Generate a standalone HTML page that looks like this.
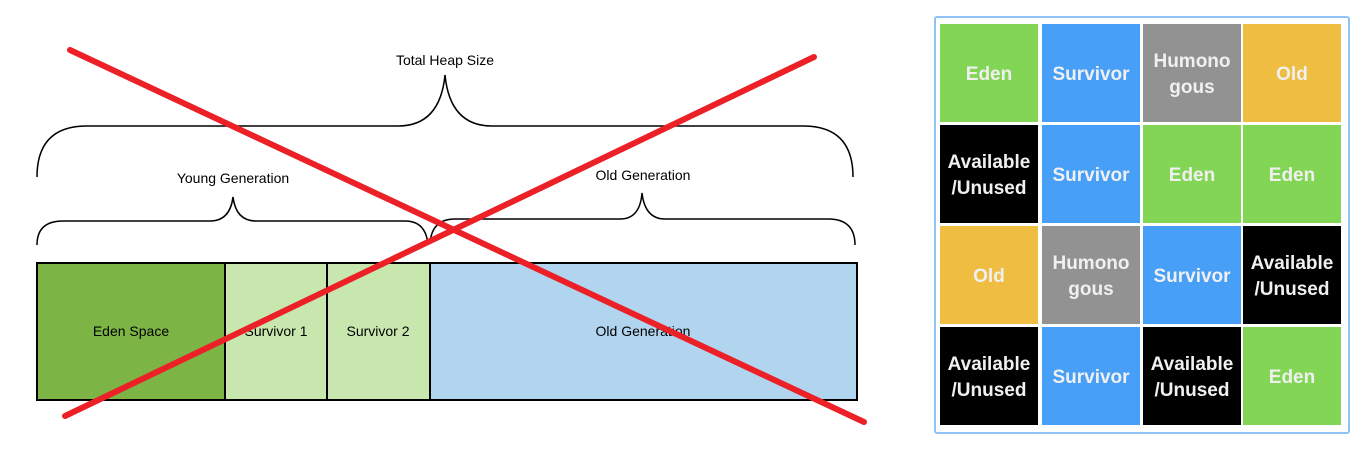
<!DOCTYPE html>
<html><head><style>
html,body{margin:0;padding:0;background:#fff;width:1367px;height:449px;overflow:hidden}
svg{position:absolute;left:0;top:0}
.grid{position:absolute;left:934px;top:16px;width:412px;height:414px;border:2px solid #8ec3f5;border-radius:3px;background:#fff}
.c{position:absolute;width:98px;height:98px;box-sizing:border-box;padding-top:4px;color:#f0f0f0;font:bold 19px "Liberation Sans",sans-serif;display:flex;align-items:center;justify-content:center;text-align:center;line-height:26px}
.g{background:#83d655}.b{background:#479ff7}.y{background:#eebd41}.k{background:#000}.h{background:#929292}
</style></head><body>
<svg width="1367" height="449" font-family="Liberation Sans, sans-serif" font-size="14">
<rect x="37" y="263" width="188" height="137" fill="#7cb446" stroke="#000" stroke-width="2"/>
<rect x="225" y="263" width="102" height="137" fill="#c7e7ae" stroke="#000" stroke-width="2"/>
<rect x="327" y="263" width="103" height="137" fill="#c7e7ae" stroke="#000" stroke-width="2"/>
<rect x="430" y="263" width="427" height="137" fill="#b1d5ef" stroke="#000" stroke-width="2"/>
<text x="131" y="336" text-anchor="middle">Eden Space</text>
<text x="276" y="336" text-anchor="middle">Survivor 1</text>
<text x="378" y="336" text-anchor="middle">Survivor 2</text>
<text x="643" y="336" text-anchor="middle">Old Generation</text>
<g fill="none" stroke="#000" stroke-width="1.5">
<path d="M37,177 Q37,127 85,126 L398,126 Q440,126 445,75 Q450,126 492,126 L805,126 Q853,127 853,177"/>
<path d="M37,245 Q37,221 63,221 L210,221 Q230,221 233,197 Q236,221 256,221 L405,221 Q426,221 428,245"/>
<path d="M430,243 Q432,219 455,219 L620,219 Q640,219 642,193 Q645,219 665,219 L830,219 Q855,220 855,245"/>
</g>
<text x="445" y="65" text-anchor="middle">Total Heap Size</text>
<text x="233" y="183" text-anchor="middle">Young Generation</text>
<text x="643" y="180" text-anchor="middle">Old Generation</text>
<g stroke="#ec2027" stroke-width="6" stroke-linecap="round">
<line x1="70" y1="50" x2="864" y2="422"/>
<line x1="65" y1="416" x2="814" y2="57"/>
</g>
</svg>
<div class="grid">
<div class="c g" style="left:4px;top:6px">Eden</div>
<div class="c b" style="left:106px;top:6px">Survivor</div>
<div class="c h" style="left:207px;top:6px">Humono<br>gous</div>
<div class="c y" style="left:307px;top:6px">Old</div>
<div class="c k" style="left:4px;top:107px">Available<br>/Unused</div>
<div class="c b" style="left:106px;top:107px">Survivor</div>
<div class="c g" style="left:207px;top:107px">Eden</div>
<div class="c g" style="left:307px;top:107px">Eden</div>
<div class="c y" style="left:4px;top:208px">Old</div>
<div class="c h" style="left:106px;top:208px">Humono<br>gous</div>
<div class="c b" style="left:207px;top:208px">Survivor</div>
<div class="c k" style="left:307px;top:208px">Available<br>/Unused</div>
<div class="c k" style="left:4px;top:309px">Available<br>/Unused</div>
<div class="c b" style="left:106px;top:309px">Survivor</div>
<div class="c k" style="left:207px;top:309px">Available<br>/Unused</div>
<div class="c g" style="left:307px;top:309px">Eden</div>
</div>
</body></html>
